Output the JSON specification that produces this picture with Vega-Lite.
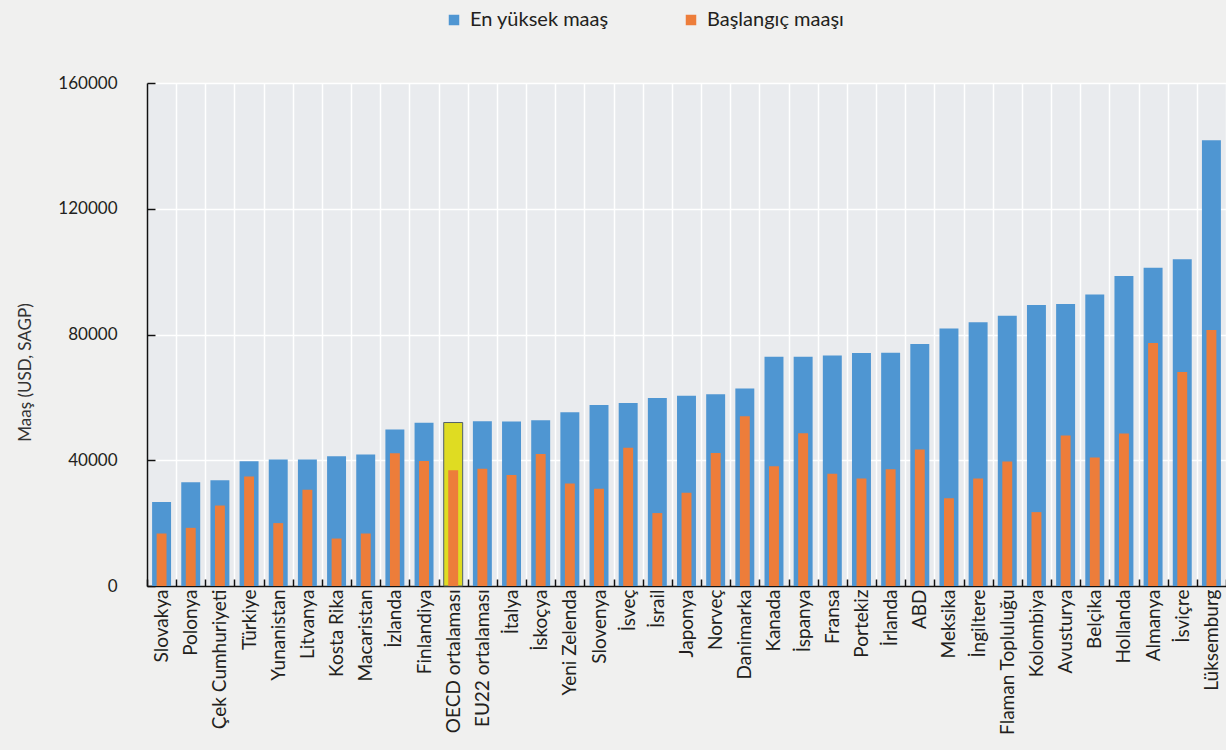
{
  "$schema": "https://vega.github.io/schema/vega-lite/v6.json",
  "autosize": {"type": "none"},
  "padding": {"left": 147, "top": 83, "right": 0, "bottom": 164},
  "width": 1079,
  "height": 503,
  "background": "#f0f0ef",
  "config": {
    "view": {"fill": "#e9ebee", "stroke": null},
    "font": "Lato",
    "axis": {"labelColor": "#231f20", "titleColor": "#333333", "domainColor": "#111111", "tickColor": "#111111", "gridColor": "#ffffff"}
  },
  "data": {
    "values": [
      {"country": "Slovakya", "max": 26700, "start": 16700},
      {"country": "Polonya", "max": 33000, "start": 18500},
      {"country": "Çek Cumhuriyeti", "max": 33600, "start": 25600},
      {"country": "Türkiye", "max": 39700, "start": 34800},
      {"country": "Yunanistan", "max": 40200, "start": 20000},
      {"country": "Litvanya", "max": 40200, "start": 30600},
      {"country": "Kosta Rika", "max": 41300, "start": 15100},
      {"country": "Macaristan", "max": 41800, "start": 16700},
      {"country": "İzlanda", "max": 49800, "start": 42200},
      {"country": "Finlandiya", "max": 51900, "start": 39800},
      {"country": "OECD ortalaması", "max": 52000, "start": 36800},
      {"country": "EU22 ortalaması", "max": 52400, "start": 37300},
      {"country": "İtalya", "max": 52300, "start": 35300},
      {"country": "İskoçya", "max": 52700, "start": 42000},
      {"country": "Yeni Zelenda", "max": 55300, "start": 32600},
      {"country": "Slovenya", "max": 57600, "start": 30900},
      {"country": "İsveç", "max": 58200, "start": 44000},
      {"country": "İsrail", "max": 59800, "start": 23200},
      {"country": "Japonya", "max": 60500, "start": 29700},
      {"country": "Norveç", "max": 61000, "start": 42300},
      {"country": "Danimarka", "max": 62800, "start": 54000},
      {"country": "Kanada", "max": 72900, "start": 38100},
      {"country": "İspanya", "max": 72900, "start": 48600},
      {"country": "Fransa", "max": 73300, "start": 35700},
      {"country": "Portekiz", "max": 74100, "start": 34200},
      {"country": "İrlanda", "max": 74200, "start": 37100},
      {"country": "ABD", "max": 77000, "start": 43400},
      {"country": "Meksika", "max": 81900, "start": 27900},
      {"country": "İngiltere", "max": 83900, "start": 34200},
      {"country": "Flaman Topluluğu", "max": 86000, "start": 39600},
      {"country": "Kolombiya", "max": 89400, "start": 23500},
      {"country": "Avusturya", "max": 89700, "start": 47900},
      {"country": "Belçika", "max": 92700, "start": 40900},
      {"country": "Hollanda", "max": 98600, "start": 48500},
      {"country": "Almanya", "max": 101200, "start": 77300},
      {"country": "İsviçre", "max": 103900, "start": 68100},
      {"country": "Lüksemburg", "max": 141800, "start": 81400}
    ]
  },
  "encoding": {
    "x": {
      "field": "country",
      "type": "nominal",
      "sort": null,
      "scale": {"paddingInner": 0, "paddingOuter": 0},
      "axis": {
        "title": null,
        "tickBand": "extent",
        "grid": true,
        "gridWidth": 1.5,
        "ticks": true,
        "tickSize": -7,
        "tickWidth": 1.5,
        "domainWidth": 1.5,
        "labelAngle": -90,
        "labelFontSize": 19,
        "labelPadding": 10
      }
    }
  },
  "layer": [
    {
      "mark": {"type": "bar", "width": {"band": 0.65}},
      "encoding": {
        "y": {
          "field": "max",
          "type": "quantitative",
          "scale": {"domain": [0, 160000]},
          "axis": {
            "title": "Maaş (USD, SAGP)",
            "titleFontSize": 17,
            "titleFontWeight": "normal",
            "titleAngle": -90,
            "titleAlign": "center",
            "titleBaseline": "middle",
            "titleX": -122,
            "titleY": 289,
            "values": [0, 40000, 80000, 120000, 160000],
            "format": "d",
            "grid": true,
            "gridWidth": 1.5,
            "tickSize": -8,
            "tickWidth": 1.5,
            "domainWidth": 1.5,
            "labelFontSize": 17,
            "labelPadding": 38
          }
        },
        "color": {
          "datum": "En yüksek maaş",
          "type": "nominal",
          "scale": {"domain": ["En yüksek maaş", "Başlangıç maaşı"], "range": ["#4f96d2", "#ed7d3a"]},
          "legend": {
            "title": null,
            "orient": "none",
            "legendX": 297,
            "legendY": -73,
            "direction": "horizontal",
            "symbolType": "square",
            "symbolSize": 110,
            "symbolStrokeWidth": 0,
            "labelFontSize": 20,
            "labelColor": "#231f20",
            "labelOffset": 6,
            "columnPadding": 72
          }
        }
      }
    },
    {
      "transform": [{"filter": "datum.country === 'OECD ortalaması'"}],
      "mark": {"type": "bar", "width": {"band": 0.65}, "fill": "#dfdc22", "stroke": "#55626b", "strokeWidth": 1},
      "encoding": {"y": {"field": "max", "type": "quantitative"}}
    },
    {
      "mark": {"type": "bar", "width": {"band": 0.34}},
      "encoding": {
        "y": {"field": "start", "type": "quantitative"},
        "color": {"datum": "Başlangıç maaşı", "type": "nominal"}
      }
    }
  ]
}
